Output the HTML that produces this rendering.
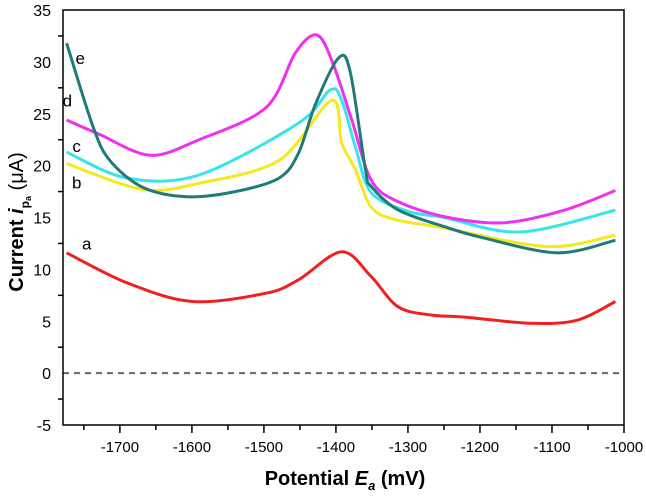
<!DOCTYPE html>
<html><head><meta charset="utf-8"><style>
body{margin:0;background:#fff;}
svg text{font-family:"Liberation Sans",sans-serif;}
</style></head><body>
<svg id="chart" width="646" height="491" viewBox="0 0 646 491" xmlns="http://www.w3.org/2000/svg">
<g id="plot"></g>
</svg>
<script>
const xTicks=[-1700,-1600,-1500,-1400,-1300,-1200,-1100,-1000];
const yTicks=[-5,0,5,10,15,20,25,30,35];
const seriesNames=["a","b","c","d","e"];
const seriesColors=["#f02020","#f2ea1c","#38e4e8","#f030f0","#1f7a78"];
const xA=[-1774,-1690,-1599,-1497,-1452,-1392,-1351,-1314,-1268,-1221,-1130,-1065,-1012];
const yA=[11.6,8.7,6.9,7.7,9,11.7,9.3,6.4,5.6,5.4,4.8,5.1,6.9];
const xB=[-1774,-1668,-1590,-1479,-1406,-1392,-1373,-1351,-1318,-1250,-1106,-1012];
const yB=[20.2,17.7,18.3,20.5,26.3,22.2,19.6,16,14.8,14,12.2,13.3];
const xC=[-1774,-1690,-1590,-1452,-1408,-1392,-1373,-1351,-1300,-1250,-1144,-1012];
const yC=[21.3,18.8,19.1,24.1,27.3,26.3,21.8,17.4,15.6,15,13.6,15.7];
const xD=[-1774,-1728,-1658,-1590,-1497,-1456,-1427,-1406,-1378,-1351,-1313,-1244,-1166,-1083,-1012];
const yD=[24.4,23,21,22.5,25.6,30.9,32.6,30.2,24.4,18.6,16.5,15,14.5,15.7,17.6];
const xE=[-1774,-1737,-1714,-1668,-1607,-1540,-1479,-1452,-1428,-1396,-1380,-1359,-1351,-1313,-1244,-1199,-1093,-1012];
const yE=[31.8,23.7,20.5,17.9,17,17.5,18.8,21.2,26,30.4,29,19.6,18,15.7,14,13.1,11.6,12.8];
const seriesX=[xA,xB,xC,xD,xE];
const seriesY=[yA,yB,yC,yD,yE];
const labelPos=[[-1746,11.9],[-1760,17.8],[-1760,21.3],[-1773,25.7],[-1755,29.8]];

const L=63,R=624,T=10,B=425,XMIN=-1779,XMAX=-1000,YMIN=-5,YMAX=35;
const sx=v=>L+(v-XMIN)/(XMAX-XMIN)*(R-L);
const sy=v=>B-(v-YMIN)/(YMAX-YMIN)*(B-T);
const NS="http://www.w3.org/2000/svg";
const g=document.getElementById('plot');
function mk(tag,attrs,txt){const e=document.createElementNS(NS,tag);for(const k in attrs)e.setAttribute(k,attrs[k]);if(txt!==undefined)e.textContent=txt;g.appendChild(e);return e;}
function smooth(pts){
  let d='M'+pts[0][0].toFixed(1)+','+pts[0][1].toFixed(1);
  for(let i=0;i<pts.length-1;i++){
    const p0=pts[Math.max(0,i-1)],p1=pts[i],p2=pts[i+1],p3=pts[Math.min(pts.length-1,i+2)];
    const t=0.16;
    const c1=[p1[0]+(p2[0]-p0[0])*t,p1[1]+(p2[1]-p0[1])*t];
    const c2=[p2[0]-(p3[0]-p1[0])*t,p2[1]-(p3[1]-p1[1])*t];
    d+=' C'+c1[0].toFixed(1)+','+c1[1].toFixed(1)+' '+c2[0].toFixed(1)+','+c2[1].toFixed(1)+' '+p2[0].toFixed(1)+','+p2[1].toFixed(1);
  }
  return d;
}

let zl=mk('line',{x1:L,x2:R,y1:sy(0),y2:sy(0),stroke:'#666','stroke-width':2,'stroke-dasharray':'6,5'});



seriesNames.forEach((n,i)=>{
  const pts=seriesX[i].map((x,j)=>[sx(x),sy(seriesY[i][j])]);
  const p=mk('path',{d:smooth(pts),fill:'none',stroke:seriesColors[i],'stroke-width':3,'stroke-linejoin':'round'});
  
  
  const t=mk('text',{x:sx(labelPos[i][0]),y:sy(labelPos[i][1]),'font-size':17,'text-anchor':'middle',fill:'#000'},n);
  
  
});

const box=mk('rect',{x:L,y:T,width:R-L,height:B-T,fill:'none',stroke:'#000','stroke-width':1.5});



xTicks.forEach(v=>{
  const t=mk('line',{x1:sx(v),x2:sx(v),y1:B,y2:B+8,stroke:'#000','stroke-width':1.5});
  
  
  const m=mk('line',{x1:sx(v-50),x2:sx(v-50),y1:B,y2:B+5,stroke:'#000','stroke-width':1.5});
  
  
  const l=mk('text',{x:sx(v),y:B+27,'font-size':15,'text-anchor':'middle'},String(v));
  
  
});
yTicks.forEach(v=>{
  const l=mk('text',{x:51,y:sy(v)+6,'font-size':16,'text-anchor':'end'},String(v));
  
  
  if(v<35){const m=mk('line',{x1:L-5,x2:L,y1:sy(v+2.5),y2:sy(v+2.5),stroke:'#000','stroke-width':1.5});
  
  }
});

const xt=mk('text',{x:345,y:485,'font-size':20,'font-weight':'bold','text-anchor':'middle'});
xt.innerHTML='Potential <tspan font-style="italic">E</tspan><tspan font-style="italic" font-size="13" dy="5">a</tspan><tspan dy="-5"> (mV)</tspan>';


const yt=mk('text',{x:0,y:0,'font-size':20,'font-weight':'bold','text-anchor':'middle',transform:'translate(23,222) rotate(-90)'});
yt.innerHTML='Current <tspan font-style="italic">i</tspan><tspan font-size="12" dy="6">p</tspan><tspan font-size="9" dy="2">a</tspan><tspan dy="-8" font-weight="normal">  (μA)</tspan>';


</script>
</body></html>
